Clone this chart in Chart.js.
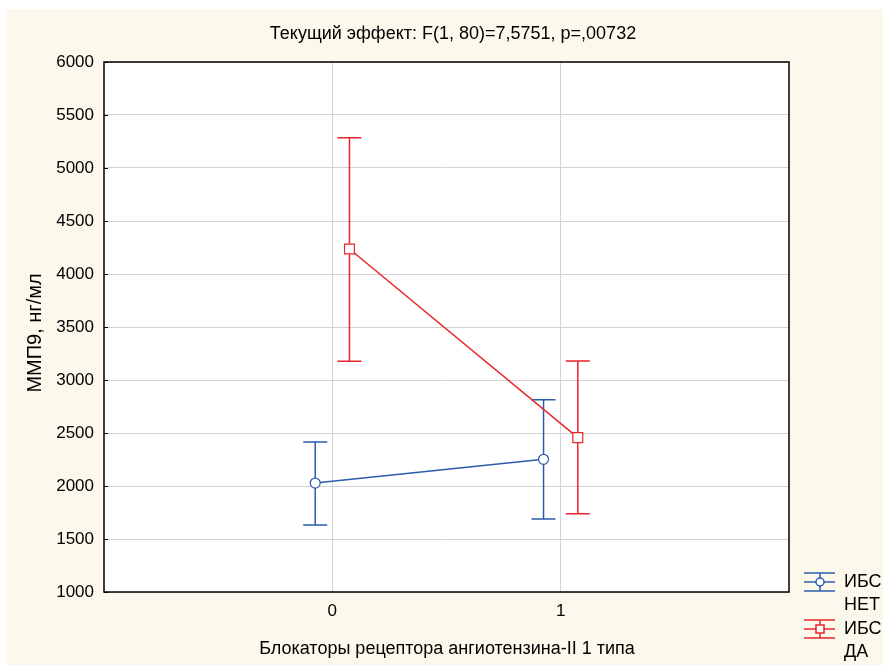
<!DOCTYPE html>
<html>
<head>
<meta charset="utf-8">
<script src="https://cdn.jsdelivr.net/npm/chart.js@4/dist/chart.umd.min.js"></script>
<style>
  html, body { margin: 0; padding: 0; background: #ffffff; }
  #wrap { width: 883px; height: 665px; }
</style>
</head>
<body>
<div id="wrap"><canvas id="grafico" width="883" height="665"></canvas></div>
<script>
// dados
var categorias = ['0', '1']
var ticksY = [1000, 1500, 2000, 2500, 3000, 3500, 4000, 4500, 5000, 5500, 6000]

var netMedia = [2028, 2252]
var netBaixo = [1632, 1689]
var netAlto = [2415, 2814]

var daMedia = [4236, 2456]
var daBaixo = [3178, 1739]
var daAlto = [5286, 3179]

var titulo = 'Текущий эффект: F(1, 80)=7,5751, p=,00732'
var tituloX = 'Блокаторы рецептора ангиотензина-II 1 типа'
var tituloY = 'ММП9, нг/мл'

var azul = '#2b5cab'
var vermelho = '#e8262d'
var familia = '"Liberation Sans", Arial, sans-serif'
var fonte = '18px ' + familia
var desloc = 0.075

function pontos(medias, d) {
    return categorias.map(function (c, i) { return { x: parseInt(c) + d, y: medias[i] } })
}

var barras = [
    { baixo: netBaixo, alto: netAlto },
    { baixo: daBaixo, alto: daAlto }
]

var pluginFundo = {
    id: 'fundo',
    beforeDraw: function (chart) {
        var ctx = chart.ctx
        var a = chart.chartArea
        ctx.save()
        ctx.fillStyle = '#ffffff'
        ctx.fillRect(0, 0, chart.width, chart.height)
        ctx.fillStyle = '#fcf8ec'
        ctx.fillRect(7, 9, chart.width - 7, chart.height - 9)
        ctx.fillStyle = '#ffffff'
        ctx.fillRect(a.left, a.top, a.right - a.left, a.bottom - a.top)
        ctx.restore()
    }
}

var pluginBarras = {
    id: 'barras',
    beforeDatasetsDraw: function (chart) {
        var ctx = chart.ctx
        var y = chart.scales.y
        ctx.save()
        ctx.lineWidth = 1.5
        chart.data.datasets.forEach(function (ds, k) {
            var meta = chart.getDatasetMeta(k)
            ctx.strokeStyle = ds.borderColor
            meta.data.forEach(function (el, i) {
                var yb = y.getPixelForValue(barras[k].baixo[i])
                var ya = y.getPixelForValue(barras[k].alto[i])
                ctx.beginPath()
                ctx.moveTo(el.x, ya); ctx.lineTo(el.x, yb)
                ctx.moveTo(el.x - 12, ya); ctx.lineTo(el.x + 12, ya)
                ctx.moveTo(el.x - 12, yb); ctx.lineTo(el.x + 12, yb)
                ctx.stroke()
            })
        })
        ctx.restore()
    }
}

var pluginTextos = {
    id: 'textos',
    afterDraw: function (chart) {
        var ctx = chart.ctx
        var a = chart.chartArea
        ctx.save()
        // moldura
        ctx.strokeStyle = '#000000'
        ctx.lineWidth = 1.5
        ctx.strokeRect(a.left, a.top, a.right - a.left, a.bottom - a.top)
        ctx.lineWidth = 1
        ctx.beginPath()
        chart.scales.y.ticks.forEach(function (t) {
            var py = Math.round(chart.scales.y.getPixelForValue(t.value)) + 0.5
            ctx.moveTo(a.left, py); ctx.lineTo(a.left + 4, py)
        })
        ctx.stroke()

        ctx.fillStyle = '#000000'
        ctx.font = fonte
        ctx.textAlign = 'center'
        ctx.textBaseline = 'middle'
        ctx.fillText(titulo, 453, 34)
        ctx.fillText(tituloX, 447, 649)
        ctx.save()
        ctx.translate(35, 333)
        ctx.rotate(-Math.PI / 2)
        ctx.font = '20px ' + familia
        ctx.fillText(tituloY, 0, 0)
        ctx.restore()

        // legenda
        var posY = [582, 629]
        chart.data.datasets.forEach(function (ds, k) {
            var cy = posY[k]
            ctx.strokeStyle = ds.borderColor
            ctx.lineWidth = 1.5
            ctx.beginPath()
            ctx.moveTo(804, cy - 9); ctx.lineTo(835, cy - 9)
            ctx.moveTo(804, cy); ctx.lineTo(835, cy)
            ctx.moveTo(804, cy + 9); ctx.lineTo(835, cy + 9)
            ctx.moveTo(820, cy - 9); ctx.lineTo(820, cy + 9)
            ctx.stroke()
            ctx.fillStyle = '#ffffff'
            ctx.beginPath()
            if (ds.pointStyle === 'circle') {
                ctx.arc(820, cy, 4, 0, Math.PI * 2)
            } else {
                ctx.rect(816, cy - 4, 8, 8)
            }
            ctx.fill()
            ctx.stroke()
            ctx.fillStyle = '#000000'
            ctx.textAlign = 'left'
            var linhas = ds.label.split(' ')
            linhas.forEach(function (l, j) { ctx.fillText(l, 844, cy + j * 23) })
        })
        ctx.restore()
    }
}

var ctx = document.getElementById('grafico').getContext('2d')
var grafico = new Chart(ctx, {
    type: 'line',
    data: {
        datasets: [
            {
                label: 'ИБС НЕТ',
                data: pontos(netMedia, -desloc),
                borderColor: azul,
                backgroundColor: '#ffffff',
                borderWidth: 1.5,
                pointStyle: 'circle',
                pointRadius: 5,
                pointBorderWidth: 1.2,
                tension: 0
            },
            {
                label: 'ИБС ДА',
                data: pontos(daMedia, desloc),
                borderColor: vermelho,
                backgroundColor: '#ffffff',
                borderWidth: 1.5,
                pointStyle: 'rect',
                pointRadius: 7,
                pointBorderWidth: 1.2,
                tension: 0
            }
        ]
    },
    options: {
        responsive: false,
        animation: false,
        layout: { padding: { left: 0, right: 94, top: 62, bottom: 0 } },
        plugins: {
            legend: { display: false },
            title: { display: false },
            tooltip: { enabled: false }
        },
        scales: {
            x: {
                type: 'linear',
                min: -1,
                max: 2,
                afterFit: function (s) { s.height = 73 },
                afterBuildTicks: function (s) {
                    s.ticks = categorias.map(function (c) { return { value: parseInt(c) } })
                },
                ticks: {
                    color: '#000000',
                    font: { family: familia, size: 17 },
                    padding: 9,
                    callback: function (v) { return String(v) }
                },
                grid: { color: '#d3d3d3', lineWidth: 1, drawTicks: false },
                border: { display: false }
            },
            y: {
                min: 1000,
                max: 6000,
                afterFit: function (s) { s.width = 104 },
                afterBuildTicks: function (s) {
                    s.ticks = ticksY.map(function (v) { return { value: v } })
                },
                ticks: {
                    color: '#000000',
                    font: { family: familia, size: 17 },
                    padding: 10,
                    callback: function (v) { return String(v) }
                },
                grid: { color: '#d3d3d3', lineWidth: 1, drawTicks: false },
                border: { display: false }
            }
        }
    },
    plugins: [pluginFundo, pluginBarras, pluginTextos]
})
</script>
</body>
</html>
